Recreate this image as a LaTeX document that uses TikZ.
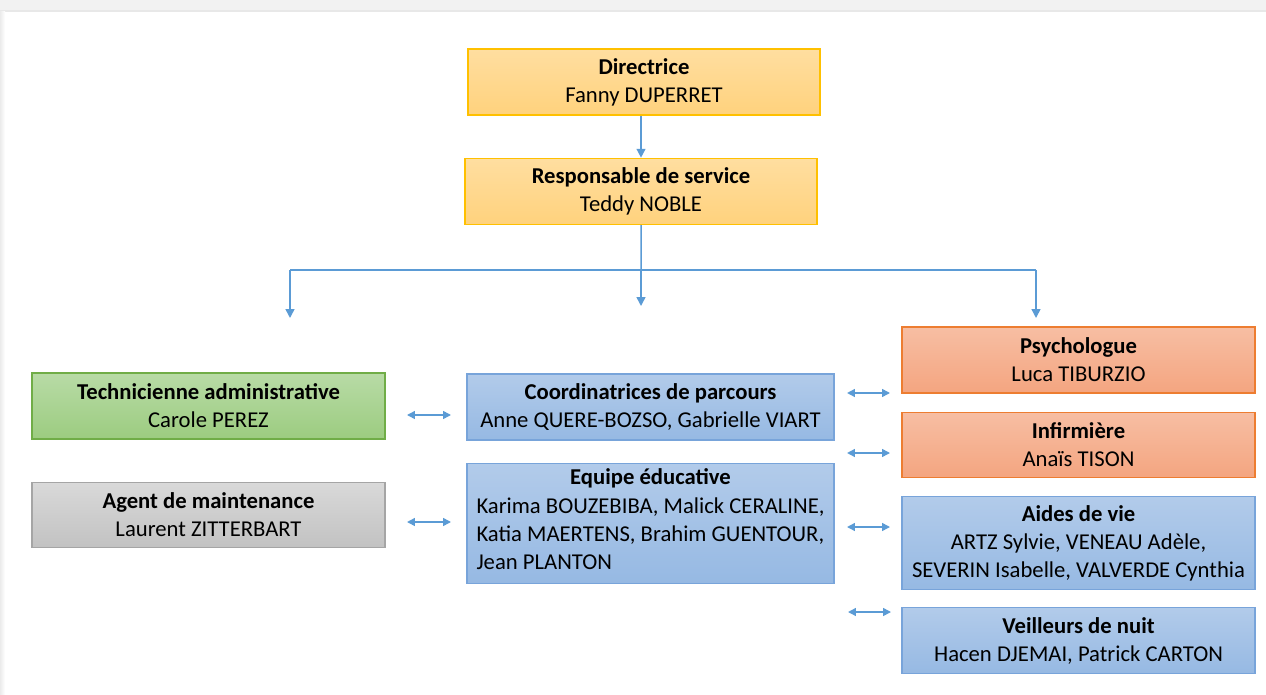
\documentclass[tikz,border=0pt]{standalone}
\usepackage{fontspec}
\setmainfont{Carlito}
\usetikzlibrary{positioning,calc,arrows.meta}
\frenchspacing
\definecolor{orgblue}{RGB}{91,155,213}
\definecolor{orgyellowtop}{RGB}{255,222,160}
\definecolor{orgyellowbot}{RGB}{255,210,125}
\definecolor{orgyellowline}{RGB}{255,192,0}
\definecolor{orggreentop}{RGB}{184,219,166}
\definecolor{orggreenbot}{RGB}{156,204,128}
\definecolor{orggreenline}{RGB}{112,173,71}
\definecolor{orggraytop}{RGB}{217,217,217}
\definecolor{orggraybot}{RGB}{194,194,194}
\definecolor{orggrayline}{RGB}{165,165,165}
\definecolor{orgbluetop}{RGB}{178,203,234}
\definecolor{orgbluebot}{RGB}{150,185,227}
\definecolor{orgblueline}{RGB}{120,164,218}
\definecolor{orgorangetop}{RGB}{247,190,163}
\definecolor{orgorangebot}{RGB}{244,165,128}
\definecolor{orgorangeline}{RGB}{237,125,49}

\begin{document}
\begin{tikzpicture}[
    x=0.02cm, y=-0.02cm,
    node distance=0.84cm,
    box/.style={rectangle, line width=0.8pt, minimum width=7.04cm, minimum height=1.32cm, align=center, inner sep=2pt, font=\fontsize{12.9}{16}\selectfont},
    direction/.style={box, draw=orgyellowline, top color=orgyellowtop, bottom color=orgyellowbot},
    admin/.style={box, draw=orggreenline, top color=orggreentop, bottom color=orggreenbot},
    maint/.style={box, draw=orggrayline, top color=orggraytop, bottom color=orggraybot},
    team/.style={box, draw=orgblueline, top color=orgbluetop, bottom color=orgbluebot},
    care/.style={box, draw=orgorangeline, top color=orgorangetop, bottom color=orgorangebot},
    link/.style={draw=orgblue, line width=0.85pt},
    arrow/.style={link, -{Triangle[length=5pt,width=5pt]}},
    biarrow/.style={link, {Triangle[length=4.5pt,width=4.5pt]}-{Triangle[length=4.5pt,width=4.5pt]}}
]
\useasboundingbox (0,0) rectangle (1266,695);

% Window frame
\fill[black!5] (0,0) rectangle (1266,10);
\fill[black!9] (0,10) rectangle (1266,12);
\fill[left color=black!8, right color=white] (0,12) rectangle (5,695);

% Direction
\node[direction] (dir) at (644,82) {\textbf{Directrice}\\Fanny DUPERRET};
\node[direction, below=0.84cm of dir, xshift=-0.06cm] (resp) {\textbf{Responsable de service}\\Teddy NOBLE};

% Left column
\node[admin, minimum width=7.06cm] (tech) at (208.5,406) {\textbf{Technicienne administrative}\\Carole PEREZ};
\node[maint, minimum width=7.06cm, minimum height=1.30cm, below=0.84cm of tech] (agent) {\textbf{Agent de maintenance}\\Laurent ZITTERBART};

% Middle column
\node[team, minimum width=7.34cm] (coord) at (650.5,407) {\textbf{Coordinatrices de parcours}\\Anne QUERE-BOZSO, Gabrielle VIART};
\node[team, minimum width=7.34cm, minimum height=2.40cm, below=0.44cm of coord] (equipe)
    {\textbf{Equipe éducative}\\\begin{tabular}[t]{@{}l@{}}Karima BOUZEBIBA, Malick CERALINE,\\Katia MAERTENS, Brahim GUENTOUR,\\Jean PLANTON\end{tabular}};

% Right column
\node[care, minimum width=7.06cm] (psy) at (1078.5,360) {\textbf{Psychologue}\\Luca TIBURZIO};
\node[care, minimum width=7.06cm, minimum height=1.30cm, below=0.36cm of psy] (inf) {\textbf{Infirmière}\\Anaïs TISON};
\node[team, minimum width=7.06cm, minimum height=1.86cm, below=0.36cm of inf] (aides) {\textbf{Aides de vie}\\ARTZ Sylvie, VENEAU Adèle,\\SEVERIN Isabelle, VALVERDE Cynthia};
\node[team, minimum width=7.06cm, below=0.33cm of aides] (veil) {\textbf{Veilleurs de nuit}\\Hacen DJEMAI, Patrick CARTON};

% Tree under the service head
\coordinate (split) at (641,270);
\coordinate (splitL) at (290,270);
\coordinate (splitR) at (1036,270);
\coordinate (endL) at (290,318);
\coordinate (endM) at (641,306);
\coordinate (endR) at (1036,318);
\draw[arrow] (dir.south -| resp.south) -- (resp);
\draw[link] (resp.south) -- (split);
\draw[link] (splitL) -- (splitR);
\draw[arrow] (splitL) -- (endL);
\draw[arrow] (split) -- (endM);
\draw[arrow] (splitR) -- (endR);

% Links between teams
\coordinate (techA) at (407,415);
\coordinate (techB) at (451,415);
\coordinate (agentA) at (407,522);
\coordinate (agentB) at (451,522);
\coordinate (psyA) at (847,393);
\coordinate (psyB) at (890,393);
\coordinate (infA) at (847,453);
\coordinate (infB) at (890,453);
\coordinate (aidesA) at (847,527);
\coordinate (aidesB) at (890,527);
\coordinate (veilA) at (848,612);
\coordinate (veilB) at (891,612);
\foreach \a/\b in {techA/techB, agentA/agentB, psyA/psyB, infA/infB, aidesA/aidesB, veilA/veilB}
    \draw[biarrow] (\a) -- (\b);

\end{tikzpicture}
\end{document}
